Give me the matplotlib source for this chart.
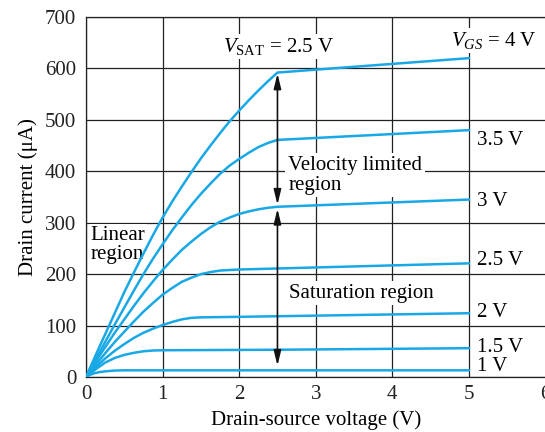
import matplotlib
matplotlib.use("Agg")
import matplotlib.pyplot as plt

plt.rcParams['font.family'] = ['Liberation Serif', 'DejaVu Serif']
plt.rcParams['mathtext.fontset'] = 'custom'
plt.rcParams['mathtext.rm'] = 'Liberation Serif'
plt.rcParams['mathtext.it'] = 'Liberation Serif:italic'

# Drain-source voltage (V) sample points and drain current (uA) per V_GS curve
vds_4v = [0, 0.125, 0.25, 0.375, 0.5, 0.625, 0.75, 0.875, 1.0, 1.125, 1.25, 1.375, 1.5,
          1.625, 1.75, 1.875, 2.0, 2.125, 2.25, 2.375, 2.5, 5.0]
id_4v = [0, 42, 83, 124, 165, 203, 240, 276, 310, 341, 370, 398, 425,
         450, 474, 497, 518, 538, 557, 575, 592, 620]

vds_35v = [0, 0.125, 0.25, 0.375, 0.5, 0.625, 0.75, 0.875, 1.0, 1.125, 1.25, 1.375, 1.5,
           1.625, 1.75, 1.875, 2.0, 2.125, 2.25, 2.375, 2.5, 5.0]
id_35v = [0, 34, 68, 102, 135, 168, 200, 230, 258, 285, 310, 334, 356,
          376, 395, 411, 424, 436, 447, 455, 461, 480]

vds_3v = [0, 0.125, 0.25, 0.375, 0.5, 0.625, 0.75, 0.875, 1.0, 1.125, 1.25, 1.375, 1.5,
          1.625, 1.75, 1.875, 2.0, 2.125, 2.25, 2.375, 2.5, 5.0]
id_3v = [0, 30, 58, 86, 112, 138, 163, 186, 208, 228, 247, 263, 278,
         291, 302, 310, 317, 322, 326, 329, 331, 345]

vds_25v = [0, 0.125, 0.25, 0.375, 0.5, 0.625, 0.75, 0.875, 1.0, 1.125, 1.25, 1.375, 1.5,
           1.625, 1.75, 1.875, 2.0, 5.0]
id_25v = [0, 24, 46, 68, 88, 108, 127, 144, 160, 173, 185, 193, 200,
          204, 207, 208, 209, 221]

vds_2v = [0, 0.125, 0.25, 0.375, 0.5, 0.625, 0.75, 0.875, 1.0, 1.125, 1.25, 1.375, 1.5, 2.0, 5.0]
id_2v = [0, 19, 36, 51, 64, 76, 86, 94, 101, 107, 112, 115, 116, 117, 124]

vds_15v = [0, 0.125, 0.25, 0.375, 0.5, 0.625, 0.75, 0.875, 1.0, 2.5, 5.0]
id_15v = [0, 15, 28, 37, 43, 47, 50, 51.5, 52, 53, 56]

vds_1v = [0, 0.05, 0.1, 0.175, 0.25, 0.375, 0.5, 5.0]
id_1v = [0, 4, 7, 9.5, 11, 12.5, 13, 13]

curves = [(vds_4v, id_4v), (vds_35v, id_35v), (vds_3v, id_3v), (vds_25v, id_25v),
          (vds_2v, id_2v), (vds_15v, id_15v), (vds_1v, id_1v)]

curve_labels = ['3.5 V', '3 V', '2.5 V', '2 V', '1.5 V', '1 V']
curve_label_y = [460, 342, 226, 126, 58, 21]

x_ticks = [0, 1, 2, 3, 4, 5, 6]
y_ticks = [0, 100, 200, 300, 400, 500, 600, 700]

arrow1 = (2.5, 590, 335)
arrow2 = (2.5, 327, 22)

fig = plt.figure(figsize=(5.45, 4.32), dpi=100)
ax = fig.add_axes([86 / 545, 55 / 432, 459.5 / 545, 360 / 432])
ax.set_xlim(0, 6)
ax.set_ylim(0, 700)
ax.set_xticks(x_ticks)
ax.set_yticks(y_ticks)
ax.grid(True, color='#222222', linewidth=0.9)
ax.set_axisbelow(True)
for s in ax.spines.values():
    s.set_linewidth(0.9)
    s.set_color('#222222')
ax.tick_params(length=0, labelsize=15, colors='#222222')
ax.tick_params(axis='y', pad=7)
ax.tick_params(axis='x', pad=6)

blue = '#18a8e6'
for xs, ys in curves:
    ax.plot(xs, ys, color=blue, linewidth=1.8, zorder=3, solid_joinstyle='round')

for a in (arrow1, arrow2):
    ax.annotate('', xy=(a[0], a[2]), xytext=(a[0], a[1]),
                arrowprops=dict(arrowstyle='<|-|>,head_length=0.9,head_width=0.22',
                                color='#111111', lw=1.2, shrinkA=0, shrinkB=0),
                zorder=4)

box = dict(facecolor='white', edgecolor='none', pad=1.5)
ax.text(2.51, 642, r'$V_{\mathrm{SAT}}$ = 2.5 V', fontsize=15, ha='center', va='center',
        bbox=box, zorder=2.5)
ax.text(5.32, 655, r'$V_{GS}$ = 4 V', fontsize=15, ha='center', va='center',
        bbox=box, zorder=2.5)
ax.text(2.64, 392, 'Velocity limited\nregion', fontsize=15, ha='left', va='center',
        linespacing=1.05, bbox=dict(facecolor='white', edgecolor='none', pad=2), zorder=2.5)
ax.text(2.65, 163, 'Saturation region', fontsize=15, ha='left', va='center',
        bbox=dict(facecolor='white', edgecolor='none', pad=2), zorder=2.5)
ax.text(0.06, 257, 'Linear\nregion', fontsize=15, ha='left', va='center',
        linespacing=1.0, bbox=dict(facecolor='white', edgecolor='none', pad=1), zorder=2.5)

for lab, yv in zip(curve_labels, curve_label_y):
    ax.text(5.11, yv, lab, fontsize=15, ha='left', va='center', zorder=2.5)

ax.set_xlabel('Drain-source voltage (V)', fontsize=15, labelpad=4)
ax.set_ylabel('Drain current (μA)', fontsize=15, labelpad=5)

fig.savefig('out.png', dpi=100)
